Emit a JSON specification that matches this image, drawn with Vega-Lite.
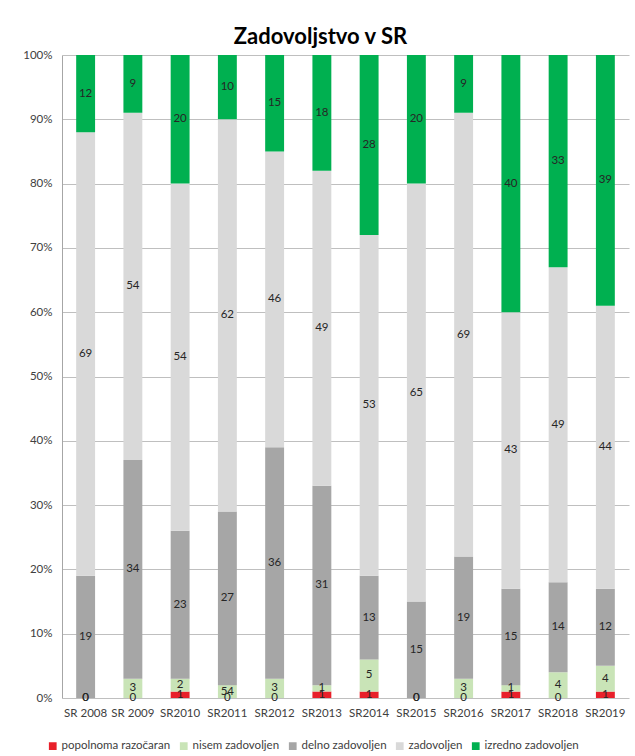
{
  "$schema": "https://vega.github.io/schema/vega-lite/v6.json",
  "width": 567,
  "height": 643,
  "autosize": {"type": "none"},
  "padding": {"left": 62, "top": 55, "right": 6, "bottom": 58},
  "background": "white",
  "title": {"text": "Zadovoljstvo v SR", "font": "Lato", "fontSize": 22, "fontWeight": "bold", "color": "#000000", "anchor": "middle", "dx": -25, "offset": 0},
  "config": {"view": {"stroke": null}, "font": "Lato"},
  "data": {"values": [
    {"leto": "SR 2008", "s": "popolnoma razočaran", "k": 1, "v": 0, "lab": "0"},
    {"leto": "SR 2008", "s": "nisem zadovoljen", "k": 2, "v": 0, "lab": "0"},
    {"leto": "SR 2008", "s": "delno zadovoljen", "k": 3, "v": 19, "lab": "19"},
    {"leto": "SR 2008", "s": "zadovoljen", "k": 4, "v": 69, "lab": "69"},
    {"leto": "SR 2008", "s": "izredno zadovoljen", "k": 5, "v": 12, "lab": "12"},
    {"leto": "SR 2009", "s": "popolnoma razočaran", "k": 1, "v": 0, "lab": "0"},
    {"leto": "SR 2009", "s": "nisem zadovoljen", "k": 2, "v": 3, "lab": "3"},
    {"leto": "SR 2009", "s": "delno zadovoljen", "k": 3, "v": 34, "lab": "34"},
    {"leto": "SR 2009", "s": "zadovoljen", "k": 4, "v": 54, "lab": "54"},
    {"leto": "SR 2009", "s": "izredno zadovoljen", "k": 5, "v": 9, "lab": "9"},
    {"leto": "SR2010", "s": "popolnoma razočaran", "k": 1, "v": 1, "lab": "1"},
    {"leto": "SR2010", "s": "nisem zadovoljen", "k": 2, "v": 2, "lab": "2"},
    {"leto": "SR2010", "s": "delno zadovoljen", "k": 3, "v": 23, "lab": "23"},
    {"leto": "SR2010", "s": "zadovoljen", "k": 4, "v": 54, "lab": "54"},
    {"leto": "SR2010", "s": "izredno zadovoljen", "k": 5, "v": 20, "lab": "20"},
    {"leto": "SR2011", "s": "popolnoma razočaran", "k": 1, "v": 0, "lab": "0"},
    {"leto": "SR2011", "s": "nisem zadovoljen", "k": 2, "v": 2, "lab": "54"},
    {"leto": "SR2011", "s": "delno zadovoljen", "k": 3, "v": 27, "lab": "27"},
    {"leto": "SR2011", "s": "zadovoljen", "k": 4, "v": 61, "lab": "62"},
    {"leto": "SR2011", "s": "izredno zadovoljen", "k": 5, "v": 10, "lab": "10"},
    {"leto": "SR2012", "s": "popolnoma razočaran", "k": 1, "v": 0, "lab": "0"},
    {"leto": "SR2012", "s": "nisem zadovoljen", "k": 2, "v": 3, "lab": "3"},
    {"leto": "SR2012", "s": "delno zadovoljen", "k": 3, "v": 36, "lab": "36"},
    {"leto": "SR2012", "s": "zadovoljen", "k": 4, "v": 46, "lab": "46"},
    {"leto": "SR2012", "s": "izredno zadovoljen", "k": 5, "v": 15, "lab": "15"},
    {"leto": "SR2013", "s": "popolnoma razočaran", "k": 1, "v": 1, "lab": "1"},
    {"leto": "SR2013", "s": "nisem zadovoljen", "k": 2, "v": 1, "lab": "1"},
    {"leto": "SR2013", "s": "delno zadovoljen", "k": 3, "v": 31, "lab": "31"},
    {"leto": "SR2013", "s": "zadovoljen", "k": 4, "v": 49, "lab": "49"},
    {"leto": "SR2013", "s": "izredno zadovoljen", "k": 5, "v": 18, "lab": "18"},
    {"leto": "SR2014", "s": "popolnoma razočaran", "k": 1, "v": 1, "lab": "1"},
    {"leto": "SR2014", "s": "nisem zadovoljen", "k": 2, "v": 5, "lab": "5"},
    {"leto": "SR2014", "s": "delno zadovoljen", "k": 3, "v": 13, "lab": "13"},
    {"leto": "SR2014", "s": "zadovoljen", "k": 4, "v": 53, "lab": "53"},
    {"leto": "SR2014", "s": "izredno zadovoljen", "k": 5, "v": 28, "lab": "28"},
    {"leto": "SR2015", "s": "popolnoma razočaran", "k": 1, "v": 0, "lab": "0"},
    {"leto": "SR2015", "s": "nisem zadovoljen", "k": 2, "v": 0, "lab": "0"},
    {"leto": "SR2015", "s": "delno zadovoljen", "k": 3, "v": 15, "lab": "15"},
    {"leto": "SR2015", "s": "zadovoljen", "k": 4, "v": 65, "lab": "65"},
    {"leto": "SR2015", "s": "izredno zadovoljen", "k": 5, "v": 20, "lab": "20"},
    {"leto": "SR2016", "s": "popolnoma razočaran", "k": 1, "v": 0, "lab": "0"},
    {"leto": "SR2016", "s": "nisem zadovoljen", "k": 2, "v": 3, "lab": "3"},
    {"leto": "SR2016", "s": "delno zadovoljen", "k": 3, "v": 19, "lab": "19"},
    {"leto": "SR2016", "s": "zadovoljen", "k": 4, "v": 69, "lab": "69"},
    {"leto": "SR2016", "s": "izredno zadovoljen", "k": 5, "v": 9, "lab": "9"},
    {"leto": "SR2017", "s": "popolnoma razočaran", "k": 1, "v": 1, "lab": "1"},
    {"leto": "SR2017", "s": "nisem zadovoljen", "k": 2, "v": 1, "lab": "1"},
    {"leto": "SR2017", "s": "delno zadovoljen", "k": 3, "v": 15, "lab": "15"},
    {"leto": "SR2017", "s": "zadovoljen", "k": 4, "v": 43, "lab": "43"},
    {"leto": "SR2017", "s": "izredno zadovoljen", "k": 5, "v": 40, "lab": "40"},
    {"leto": "SR2018", "s": "popolnoma razočaran", "k": 1, "v": 0, "lab": "0"},
    {"leto": "SR2018", "s": "nisem zadovoljen", "k": 2, "v": 4, "lab": "4"},
    {"leto": "SR2018", "s": "delno zadovoljen", "k": 3, "v": 14, "lab": "14"},
    {"leto": "SR2018", "s": "zadovoljen", "k": 4, "v": 49, "lab": "49"},
    {"leto": "SR2018", "s": "izredno zadovoljen", "k": 5, "v": 33, "lab": "33"},
    {"leto": "SR2019", "s": "popolnoma razočaran", "k": 1, "v": 1, "lab": "1"},
    {"leto": "SR2019", "s": "nisem zadovoljen", "k": 2, "v": 4, "lab": "4"},
    {"leto": "SR2019", "s": "delno zadovoljen", "k": 3, "v": 12, "lab": "12"},
    {"leto": "SR2019", "s": "zadovoljen", "k": 4, "v": 44, "lab": "44"},
    {"leto": "SR2019", "s": "izredno zadovoljen", "k": 5, "v": 39, "lab": "39"}
  ]},
  "encoding": {
    "x": {"field": "leto", "type": "nominal", "sort": null, "title": null,
      "scale": {"paddingInner": 0.6, "paddingOuter": 0.3},
      "axis": {"labelAngle": 0, "ticks": false, "domain": false, "labelFont": "Lato", "labelFontSize": 11.5, "labelColor": "#404040", "labelPadding": 9}},
    "y": {"field": "v", "type": "quantitative", "stack": "normalize", "title": null,
      "scale": {"domain": [0, 1]},
      "axis": {"values": [0, 0.1, 0.2, 0.3, 0.4, 0.5, 0.6, 0.7, 0.8, 0.9, 1], "format": ".0%", "ticks": false, "domainColor": "#A6A6A6", "gridColor": "#BFBFBF", "labelFont": "Lato", "labelFontSize": 11.5, "labelColor": "#404040", "labelPadding": 10}},
    "order": {"field": "k", "type": "quantitative"}
  },
  "layer": [
    {
      "mark": {"type": "bar"},
      "encoding": {
        "color": {"field": "s", "type": "nominal", "title": null,
          "scale": {"domain": ["popolnoma razočaran", "nisem zadovoljen", "delno zadovoljen", "zadovoljen", "izredno zadovoljen"],
                    "range": ["#E8202A", "#C9E4B7", "#A6A6A6", "#D9D9D9", "#00B050"]},
          "legend": {"orient": "none", "direction": "horizontal", "legendX": -15, "legendY": 685, "symbolType": "square", "symbolSize": 60, "symbolStrokeWidth": 0, "labelFont": "Lato", "labelFontSize": 11.5, "labelColor": "#404040", "labelOffset": 3, "columnPadding": 7}}
      }
    },
    {
      "mark": {"type": "text", "font": "Lato", "fontSize": 11.5, "color": "#262626", "baseline": "middle"},
      "encoding": {
        "y": {"field": "v", "type": "quantitative", "stack": "normalize", "bandPosition": 0.5},
        "text": {"field": "lab"}
      }
    }
  ]
}
